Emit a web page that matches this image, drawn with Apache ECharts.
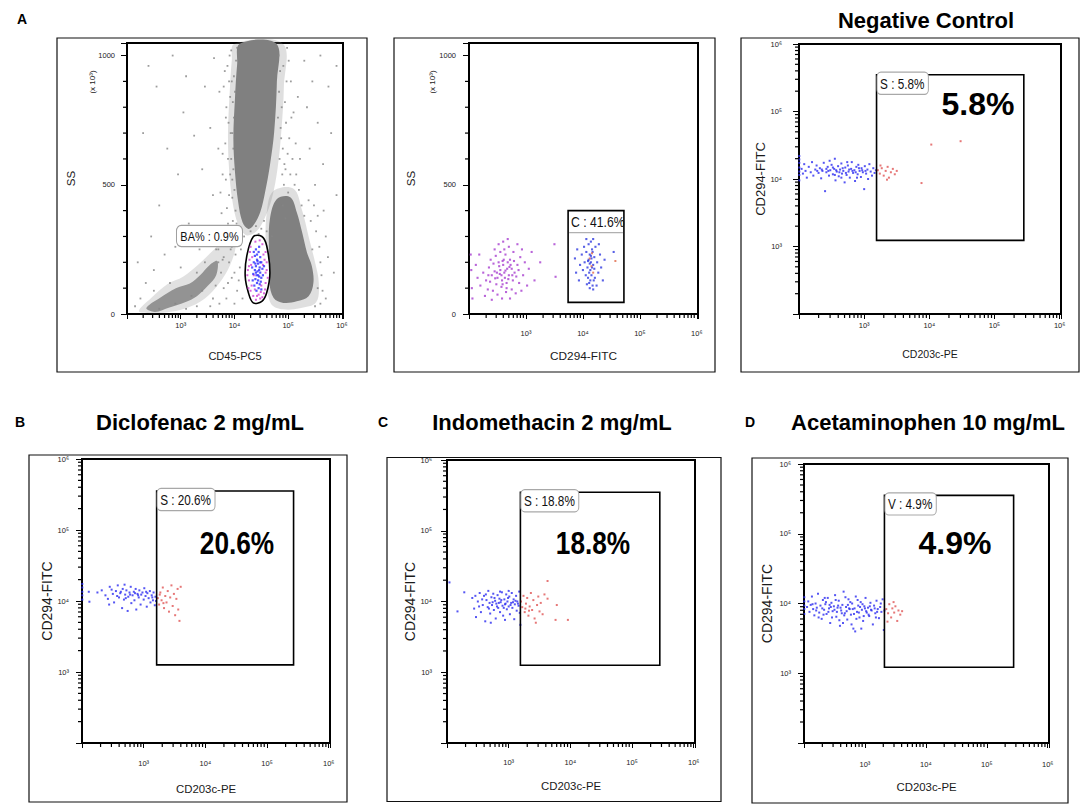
<!DOCTYPE html>
<html><head><meta charset="utf-8">
<script src="https://cdn.jsdelivr.net/npm/echarts@6/dist/echarts.min.js"></script>
<style>html,body{margin:0;padding:0;background:#fff;}#c{width:1084px;height:805px;}</style>
</head><body><div id="c"></div>
<script>
// ================= DATA =================
// Log-axis positions are stored as decade exponents (10^value); SS is in units of x10^3.
const panelLetters = ['A', 'B', 'C', 'D'];
const panelTitles = ['Negative Control', 'Diclofenac 2 mg/mL', 'Indomethacin 2 mg/mL', 'Acetaminophen 10 mg/mL'];
const bigPercents = ['5.8%', '20.6%', '18.8%', '4.9%'];
const gateLabels = ['S : 5.8%', 'S : 20.6%', 'S : 18.8%', 'V : 4.9%'];
const basoGateLabel = 'BA% : 0.9%';
const cd294GateLabel = 'C : 41.6%';
const xAxisNames = ['CD45-PC5', 'CD294-FITC', 'CD203c-PE', 'CD203c-PE', 'CD203c-PE', 'CD203c-PE'];
const yAxisNames = ['SS', 'SS', 'CD294-FITC', 'CD294-FITC', 'CD294-FITC', 'CD294-FITC'];
const ssScaleNote = '(x 10³)';
const ssTickLabels = [0, 500, 1000];
const ssMinorTicks = [100, 200, 300, 400, 600, 700, 800, 900];
const logMajorTicks = [100, 1000, 10000, 100000, 1000000];
const logDecades = [2, 3, 4, 5];
const logMultipliers = [2, 3, 4, 5, 6, 7, 8, 9];
const logTop = 1000000;

// Panel A1: CD45-PC5 vs SS
const a1CloudHighSS = [[4.10,1046],[4.78,1046],[4.79,900],[4.74,705],[4.66,575],[4.57,471],[4.48,394],[4.35,342],[4.26,329],[4.15,355],[4.07,432],[4.01,549],[3.98,679],[4.01,835],[4.05,965]];
const a1CloudLowSS = [[4.79,445],[5.04,452],[5.16,394],[5.26,316],[5.35,238],[5.44,186],[5.47,121],[5.38,69],[5.16,49],[4.91,43],[4.73,62],[4.65,121],[4.64,251],[4.66,368]];
const a1CloudDebris = [[2.36,23],[2.61,62],[2.92,101],[3.17,118],[3.36,150],[3.54,190],[3.68,205],[3.66,150],[3.50,108],[3.30,69],[3.08,45],[2.79,25],[2.52,8]];
const a1HaloHighSS = [[4.00,1046],[4.90,1046],[4.92,880],[4.87,700],[4.80,560],[4.70,450],[4.56,370],[4.40,318],[4.22,305],[4.07,345],[3.96,440],[3.90,560],[3.88,700],[3.91,850],[3.95,980]];
const a1HaloLowSS = [[4.72,475],[5.10,485],[5.26,400],[5.38,300],[5.50,200],[5.57,120],[5.52,45],[5.22,22],[4.90,18],[4.68,40],[4.60,130],[4.58,260],[4.60,390]];
const a1HaloDebris = [[2.22,12],[2.45,62],[2.75,115],[3.05,145],[3.35,195],[3.62,250],[3.88,300],[4.02,270],[3.92,190],[3.72,120],[3.45,60],[3.10,22],[2.72,6],[2.38,4]];
const a1BasoGate = [[4.35,299],[4.51,300],[4.60,264],[4.66,160],[4.60,82],[4.51,49],[4.35,43],[4.26,82],[4.20,147],[4.23,225]];
const a1SparseGray = [
 [2.25,60],[2.35,120],[2.2,200],[2.5,170],[2.7,230],[2.45,300],[2.9,260],[2.6,420],[2.95,540],[2.3,700],[2.75,640],[3.05,780],[2.55,880],[3.1,920],[2.85,1000],[2.4,960],[3.25,690],[3.15,350],[3.0,180],[2.15,30],
 [3.35,250],[3.4,560],[3.45,880],[3.5,300],[3.55,720],[3.6,460],[3.62,990],[3.66,250],[3.7,640],[3.72,860],[3.76,390],[3.78,540],[3.8,220],[3.82,940],[3.84,760],[3.86,300],[3.88,600],[3.9,460],[3.92,840],[3.93,250],[3.94,1020],[3.96,700],[3.97,360],[3.98,560],[3.99,920],
 [4.0,300],[4.02,400],[4.0,480],[3.98,640],[3.99,760],[4.01,860],[4.03,980],[4.05,1030],[4.04,350],[4.06,280],[4.08,320],[3.96,520],[3.97,820],[3.94,600],[3.95,900],[3.93,700],[3.96,450],
 [3.86,410],[3.84,520],[3.83,660],[3.85,800],[3.87,960],[3.80,880],[3.78,620],[3.74,470],[3.88,350],[3.91,1000],[3.89,740],[3.92,540],[3.90,900],
 [4.82,1000],[4.85,940],[4.83,860],[4.88,800],[4.86,720],[4.9,640],[4.84,600],[4.95,560],[4.92,500],[5.0,470],[4.98,1030],[5.05,900],[5.1,780],[5.02,680],[5.08,600],[5.15,540],[5.2,480],[5.25,420],[4.9,420],[4.95,370],[4.81,760],[4.87,680],[4.93,580],[5.12,500],[5.3,380],
 [4.94,820],[4.96,740],[4.99,620],[4.91,960],[4.97,900],[5.04,540],[5.06,760],[5.01,980],[4.89,540],[5.14,660],[5.18,840],[5.22,600],
 [5.3,980],[5.45,900],[5.6,1000],[5.75,880],[5.35,800],[5.55,740],[5.8,700],[5.4,640],[5.65,580],[5.5,500],[5.9,460],[5.55,380],[5.7,300],[5.6,200],[5.85,160],[5.55,100],[5.7,60],[5.5,30],[5.45,250],[5.9,960],
 [5.52,320],[5.58,260],[5.62,150],[5.64,90],[5.6,40],[5.48,420],[5.42,360],[5.66,400],[5.74,220],[5.38,440],
 [3.7,250],[3.75,160],[3.8,100],[3.85,60],[3.9,200],[3.95,140],[4.0,40],[4.05,90],[4.1,180],[4.12,250],[4.15,60],[4.18,300],[3.6,60],[3.65,110],[3.55,30],[3.9,300],[4.02,230],[4.08,130],[3.72,40],[3.82,280],[3.78,210],[3.88,120],[4.0,160],[4.1,270],[3.95,260],[3.7,200],
 [4.3,320],[4.4,340],[4.5,330],[4.6,320],[4.7,300],[4.45,310],[4.55,360],[4.35,360],
 [2.6,20],[2.9,40],[3.2,70],[3.4,90],[3.3,30],[3.1,20],[3.45,200],[3.3,160],[2.8,120],[2.5,90]
];
const a1GateBlue = [[4.40,250],[4.45,240],[4.38,225],[4.48,220],[4.42,210],[4.50,200],[4.36,200],[4.44,195],[4.40,185],[4.47,180],[4.52,175],[4.38,170],[4.43,165],[4.48,160],[4.35,155],[4.41,150],[4.46,145],[4.50,140],[4.39,135],[4.44,130],[4.42,120],[4.47,115],[4.37,110],[4.45,100],[4.41,90],[4.50,95],[4.33,180],[4.55,185],[4.46,260],[4.36,240],[4.53,150],[4.43,205],[4.40,160],[4.49,125],[4.34,130],[4.42,230],[4.46,170],[4.39,195],[4.44,150],[4.48,200]];
const a1GateMagenta = [[4.30,260],[4.52,270],[4.58,240],[4.28,210],[4.56,210],[4.25,170],[4.60,170],[4.27,130],[4.58,120],[4.30,90],[4.55,80],[4.35,70],[4.48,60],[4.40,55],[4.32,110],[4.50,110],[4.36,150],[4.54,230],[4.29,240],[4.62,140],[4.26,100],[4.45,75],[4.57,95],[4.33,220],[4.39,280],[4.47,285],[4.60,200],[4.24,150],[4.52,65],[4.42,70],[4.31,190],[4.53,190],[4.38,95],[4.49,85],[4.58,160],[4.27,185]];

// Panel A2: CD294-FITC vs SS
const a2GateBox = [3.74, 4.72, 45, 400];
const a2Purple = [[2.62,160],[2.55,170],[2.70,150],[2.60,190],[2.68,200],[2.50,140],[2.75,175],[2.58,130],[2.66,120],[2.45,165],[2.72,210],[2.64,230],[2.52,200],[2.80,160],[2.40,150],[2.57,105],[2.77,130],[2.48,115],[2.85,190],[2.35,180],[2.62,250],[2.70,260],[2.55,240],[2.90,220],[2.95,150],[2.88,120],[2.42,90],[2.30,130],[2.25,160],[2.20,110],[2.65,85],[2.75,95],[2.50,75],[2.82,80],[2.38,210],[2.78,240],[2.60,280],[2.68,290],[2.98,200],[3.05,175],[3.02,110],[2.92,90],[2.33,95],[2.28,70],[2.15,140],[2.12,190],[2.18,230],[2.45,250],[2.52,270],[2.85,270],[2.58,60],[2.72,60],[2.40,55],[3.10,240],[3.15,130],[3.25,200],[2.63,140],[2.57,150],[2.67,175],[2.53,185],[2.73,190],[2.61,210],[2.49,160],[2.69,135],[2.59,115],[2.47,225],[2.79,205],[2.83,145],[2.37,125],[2.43,195],[3.50,270],[3.52,144],[2.05,100],[2.04,170],[2.03,230],[2.06,60],[2.54,155],[2.64,168],[2.71,182],[2.46,138],[2.59,205],[2.76,150],[2.87,170],[2.34,150],[2.66,100],[2.93,250]];
const a2Blue = [[4.14,200],[4.10,210],[4.18,190],[4.12,230],[4.16,250],[4.08,180],[4.20,220],[4.13,170],[4.06,240],[4.22,260],[4.15,150],[4.09,140],[4.19,130],[4.11,120],[4.17,110],[4.03,200],[4.25,200],[4.00,170],[4.27,160],[4.14,280],[4.10,270],[4.18,290],[4.05,150],[4.21,140],[3.98,230],[4.30,230],[3.95,190],[4.32,180],[3.90,250],[4.35,130],[4.12,100],[4.18,95],[4.07,115],[3.93,130],[3.88,160],[4.24,110],[4.16,180],[4.12,195],[4.15,215],[4.11,160],[4.17,240],[4.13,130],[4.09,205],[4.20,175],[4.14,225],[4.02,260],[4.28,270],[4.06,290],[3.86,215],[4.38,210],[4.54,240]];
const a2Red = [[4.15,185],[4.12,215],[4.18,160],[4.57,205],[4.16,235]];

// Panel A3: Negative Control (CD203c-PE vs CD294-FITC)
const negGate = [3.19, 5.45, 3.09, 5.545];
const negBlue = [[2.04,4.15],[2.06,4.08],[2.08,4.22],[2.10,4.12],[2.12,4.02],[2.15,4.18],[2.18,4.10],[2.20,4.25],[2.22,4.05],[2.25,4.14],[2.27,4.20],[2.30,4.09],[2.32,4.16],[2.34,4.01],[2.36,4.12],[2.38,4.24],[2.40,3.82],[2.42,4.10],[2.44,4.18],[2.46,4.05],[2.48,4.13],[2.50,4.21],[2.52,4.07],[2.54,4.15],[2.55,4.30],[2.56,3.98],[2.58,4.11],[2.60,4.19],[2.61,4.04],[2.63,4.14],[2.65,4.23],[2.66,4.08],[2.68,4.12],[2.70,3.95],[2.71,4.17],[2.73,4.06],[2.75,4.20],[2.76,4.11],[2.78,4.02],[2.80,4.15],[2.81,4.25],[2.83,4.09],[2.85,4.13],[2.86,3.97],[2.88,4.18],[2.90,4.07],[2.91,4.21],[2.93,4.12],[2.95,4.03],[2.96,4.16],[2.98,4.10],[3.00,3.85],[3.01,4.19],[3.03,4.08],[3.05,4.14],[3.06,4.00],[3.08,4.22],[3.10,4.11],[3.12,4.05],[3.14,4.16],[3.16,4.09],[3.18,4.13],[2.35,4.14],[2.45,4.12],[2.57,4.13],[2.67,4.16],[2.77,4.14],[2.87,4.10],[2.97,4.13],[2.62,4.10],[2.72,4.09],[2.82,4.12],[2.52,4.17],[2.42,4.15],[2.92,4.16],[3.02,4.12],[2.65,4.02],[2.55,4.06],[2.74,4.25],[2.89,4.02],[2.47,4.27],[2.28,4.12]];
const negEdge = [[2.005,3.98],[2.005,4.06],[2.005,4.11],[2.005,4.17],[2.005,4.24],[2.005,4.29],[2.005,4.34]];
const negRed = [[3.21,4.13],[3.24,4.08],[3.27,4.16],[3.30,4.05],[3.33,4.12],[3.36,4.18],[3.38,4.02],[3.41,4.10],[3.44,4.15],[3.47,4.07],[3.50,4.12],[3.25,4.20],[3.35,3.99],[4.03,4.51],[4.48,4.56],[3.88,3.94]];

// Panel B: Diclofenac 2 mg/mL
const dicloGate = [3.21, 5.43, 3.10, 5.55];
const dicloBlue = [[2.11,4.13],[2.12,3.99],[2.25,4.12],[2.32,4.15],[2.38,4.08],[2.42,4.03],[2.45,4.20],[2.50,4.10],[2.52,3.98],[2.55,4.14],[2.58,4.22],[2.60,4.05],[2.62,4.11],[2.65,3.90],[2.66,4.17],[2.68,4.02],[2.70,4.09],[2.72,4.15],[2.74,3.86],[2.75,4.06],[2.77,4.12],[2.79,4.20],[2.80,3.97],[2.82,4.08],[2.84,4.13],[2.85,4.01],[2.87,4.17],[2.88,3.88],[2.90,4.10],[2.92,4.05],[2.93,4.15],[2.95,3.95],[2.96,4.09],[2.98,4.12],[3.00,4.02],[3.01,4.18],[3.03,4.07],[3.05,3.92],[3.06,4.11],[3.08,4.04],[3.10,4.14],[3.11,3.98],[3.13,4.08],[3.15,4.01],[3.16,4.12],[3.18,3.94],[3.19,4.06],[3.20,4.00],[2.48,4.16],[2.63,4.13],[2.78,4.09],[2.91,4.08],[3.04,4.13],[2.57,4.07],[2.71,4.04],[2.86,4.11],[3.14,4.05],[2.69,4.23],[2.44,3.95]];
const dicloEdge = [[2.005,4.02],[2.005,4.08],[2.005,4.13],[2.005,4.19],[2.005,4.24]];
const dicloRed = [[3.23,4.04],[3.25,3.95],[3.27,4.12],[3.29,4.01],[3.31,4.19],[3.33,3.90],[3.35,4.07],[3.37,3.98],[3.39,4.14],[3.41,3.85],[3.43,4.05],[3.45,4.22],[3.47,3.93],[3.49,4.10],[3.51,3.80],[3.53,4.03],[3.55,4.17],[3.58,3.72],[3.60,4.20],[3.56,3.88],[3.26,4.09],[3.32,3.97]];

// Panel C: Indomethacin 2 mg/mL
const indoGate = [3.19, 5.45, 3.10, 5.545];
const indoBlue = [[2.04,4.27],[2.17,3.86],[2.28,4.13],[2.41,4.05],[2.44,3.90],[2.47,3.78],[2.50,4.00],[2.53,4.12],[2.55,3.85],[2.58,3.95],[2.60,4.08],[2.62,3.72],[2.64,4.02],[2.66,3.92],[2.67,4.15],[2.69,3.98],[2.70,3.83],[2.72,4.06],[2.73,3.95],[2.75,4.11],[2.76,3.88],[2.78,4.01],[2.79,3.76],[2.80,3.97],[2.82,4.09],[2.83,3.91],[2.85,4.04],[2.86,3.85],[2.87,3.99],[2.89,4.13],[2.90,3.94],[2.91,3.80],[2.93,4.03],[2.94,3.96],[2.96,4.10],[2.97,3.89],[2.98,4.00],[3.00,3.93],[3.01,4.07],[3.02,3.82],[3.04,3.98],[3.05,4.12],[3.06,3.91],[3.08,4.03],[3.09,3.75],[3.10,3.96],[3.12,4.08],[3.13,3.87],[3.14,4.00],[3.16,3.94],[3.17,4.14],[3.18,3.84],[3.19,3.67],[2.74,3.99],[2.81,3.93],[2.88,4.02],[2.95,3.97],[3.03,3.95],[3.11,4.01],[2.77,4.05],[2.84,3.98],[2.92,3.91],[2.99,4.05],[3.07,3.99],[3.15,3.97],[2.68,3.90],[2.63,4.10],[2.57,4.03],[2.52,3.93],[2.46,4.08],[2.71,3.70],[2.94,3.74],[3.00,4.15],[2.86,4.14]];
const indoRed = [[3.20,4.00],[3.22,3.92],[3.24,4.08],[3.26,3.85],[3.28,3.97],[3.30,4.05],[3.32,3.80],[3.34,3.93],[3.36,4.12],[3.38,3.88],[3.40,4.02],[3.42,3.76],[3.44,3.70],[3.46,3.95],[3.48,4.07],[3.50,3.86],[3.52,3.98],[3.55,3.82],[3.58,4.10],[3.63,4.29],[3.63,4.04],[3.78,3.95],[3.76,3.74],[3.96,3.74],[3.27,3.90],[3.33,3.87]];

// Panel D: Acetaminophen 10 mg/mL
const acetGate = [3.32, 5.44, 3.085, 5.55];
const acetBlue = [[2.05,3.95],[2.07,4.03],[2.09,3.88],[2.11,3.98],[2.13,4.10],[2.15,3.92],[2.17,3.83],[2.19,4.00],[2.21,3.94],[2.23,4.14],[2.25,3.87],[2.27,3.97],[2.29,3.78],[2.31,4.05],[2.33,3.91],[2.35,3.99],[2.37,3.85],[2.39,4.08],[2.41,3.93],[2.43,3.72],[2.45,4.01],[2.47,3.89],[2.49,3.96],[2.51,4.12],[2.53,3.81],[2.55,3.94],[2.57,4.04],[2.59,3.68],[2.61,3.90],[2.63,3.98],[2.65,4.17],[2.67,3.86],[2.69,3.95],[2.71,3.77],[2.73,4.06],[2.75,3.92],[2.77,3.84],[2.79,4.00],[2.81,3.64],[2.83,3.93],[2.85,4.10],[2.87,3.88],[2.89,3.97],[2.91,3.80],[2.93,4.02],[2.95,3.91],[2.97,3.75],[2.99,3.96],[3.01,4.08],[3.03,3.87],[3.05,3.94],[3.07,3.82],[3.09,4.01],[3.11,3.90],[3.13,3.70],[3.15,3.97],[3.17,3.86],[3.19,4.04],[3.21,3.92],[3.23,3.79],[3.25,3.95],[3.27,3.88],[3.29,4.06],[3.31,3.62],[3.32,3.90],[2.20,3.90],[2.30,3.93],[2.40,3.88],[2.50,3.91],[2.60,3.94],[2.70,3.89],[2.80,3.92],[2.90,3.87],[3.00,3.93],[3.10,3.91],[3.20,3.88],[2.36,4.02],[2.46,3.80],[2.56,3.97],[2.66,3.83],[2.76,4.02],[2.86,3.78],[2.96,3.99],[3.06,3.84],[3.16,3.93],[2.62,3.86],[2.72,3.98],[2.82,3.85],[2.92,3.95],[3.02,3.89],[2.52,4.05],[2.42,3.98],[2.32,3.84],[2.58,3.76],[2.68,4.09],[2.78,3.70],[2.88,4.05],[2.98,3.82],[3.08,3.96],[3.18,3.80],[3.26,4.00],[2.94,3.64],[2.84,3.60],[2.64,3.72],[2.74,3.93],[2.54,3.88],[2.44,3.95],[2.34,4.08],[2.24,3.80],[2.14,3.99]];
const acetEdge = [[2.005,3.85],[2.005,3.92],[2.005,3.97],[2.005,4.03],[2.005,4.09]];
const acetRed = [[3.35,3.92],[3.38,3.86],[3.40,3.99],[3.43,3.80],[3.45,3.93],[3.48,3.87],[3.50,3.96],[3.53,3.75],[3.55,3.90],[3.58,3.84],[3.61,3.89],[3.37,3.74],[3.47,4.02]];

// ================= LAYOUT / STYLE =================
const ARIAL = '"Liberation Sans",Arial,Helvetica,sans-serif';
const BLUE = '#2b2bf0', RED = '#e05555', GRAY = '#858585';

const grids = [
  {left:127, top:43, width:216, height:271},
  {left:469, top:43, width:229, height:271},
  {left:799, top:44, width:262, height:270},
  {left:82,  top:459, width:248, height:284},
  {left:447, top:460, width:248, height:283},
  {left:804, top:464, width:245, height:279}
];
const xCfg = [ // [labelMargin, nameGap, nameSize]
  [7, 36, 11], [15, 36, 11.8], [7, 34, 10.5], [16, 40, 11.4], [15, 37, 11.4], [17, 38, 11.4]
];
const yCfg = [ // [labelMargin, nameGap, nameSize]
  [12, 50, 11.5], [13, 52, 11.5], [17, 29, 13], [13, 28, 14], [15, 30, 14], [13, 30, 14]
];
const ssPanels = [0, 1];

const SUP = {'2':'²','3':'³','4':'⁴','5':'⁵','6':'⁶'};
function logLabel(v) {
  const e = Math.log10(v), r = Math.round(e);
  if (Math.abs(e - r) > 1e-6 || r < 3) return '';
  return '10' + SUP[r];
}
function ssLabel(v) { return ssTickLabels.indexOf(v) >= 0 ? String(v) : ''; }

const logMinorTicks = [];
logDecades.forEach(function (d) { logMultipliers.forEach(function (m) { logMinorTicks.push(m * Math.pow(10, d)); }); });

const toRaw = (pts, yLog) => pts.map(p => [Math.pow(10, p[0]), yLog ? Math.pow(10, p[1]) : p[1]]);

const xAxes = grids.map((g, i) => ({
  type:'log', logBase:10, gridIndex:i, min:100, max:1048576,
  name:xAxisNames[i], nameLocation:'middle', nameGap:xCfg[i][1],
  nameTextStyle:{fontSize:xCfg[i][2], fontFamily:ARIAL, color:'#1a1a1a'},
  axisLine:{show:true, lineStyle:{color:'#000', width:2}},
  axisTick:{show:true, length:5, lineStyle:{color:'#000'}},
  splitLine:{show:false},
  axisLabel:{margin:xCfg[i][0], formatter:logLabel, fontSize:7.5, fontFamily:ARIAL, color:'#222'}
}));
const yAxes = grids.map((g, i) => {
  const ss = ssPanels.indexOf(i) >= 0;
  const base = {
    gridIndex:i, name:yAxisNames[i], nameLocation:'middle', nameRotate:90, nameGap:yCfg[i][1],
    nameTextStyle:{fontSize:yCfg[i][2], fontFamily:ARIAL, color:'#1a1a1a'},
    axisLine:{show:true, lineStyle:{color:'#000', width:2}},
    axisTick:{show:true, length:6, lineStyle:{color:'#000'}},
    splitLine:{show:false},
    axisLabel:{margin:yCfg[i][0], fontSize:7.5, fontFamily:ARIAL, color:'#222'}
  };
  if (ss) { base.type = 'value'; base.min = 0; base.max = 1048.576; base.interval = 500; base.axisLabel.formatter = ssLabel; }
  else { base.type = 'log'; base.logBase = 10; base.min = 100; base.max = logTop; base.axisLabel.formatter = logLabel; }
  return base;
});

const series = [];
function addDots(gi, pts, yLog, color, size, z) {
  series.push({type:'scatter', xAxisIndex:gi, yAxisIndex:gi, data:toRaw(pts, yLog), symbol:'rect',
    symbolSize:size || 2, itemStyle:{color:color}, z:z || 5, silent:true});
}
function addPoly(gi, pts, fill, stroke, z) {
  const raw = toRaw(pts, false);
  series.push({type:'custom', xAxisIndex:gi, yAxisIndex:gi, data:raw, z:z, silent:true,
    renderItem: function (params, api) {
      if (params.dataIndex !== 0) return null;
      return {type:'polygon', shape:{points:raw.map(p => api.coord(p)), smooth:0.35},
        style:{fill:fill, stroke:stroke || null, lineWidth:stroke ? 1.6 : 0}};
    }});
}
function addGate(gi, box, label, yLog, boxed) {
  const c0 = [Math.pow(10, box[0]), yLog ? Math.pow(10, box[2]) : box[2]];
  const c1 = [Math.pow(10, box[1]), yLog ? Math.pow(10, box[3]) : box[3]];
  series.push({type:'custom', xAxisIndex:gi, yAxisIndex:gi, data:[c0, c1], z:9, silent:true,
    renderItem: function (params, api) {
      if (params.dataIndex !== 0) return null;
      const p0 = api.coord(c0), p1 = api.coord(c1);
      const x = p0[0], y = p1[1], w = p1[0] - p0[0], h = p0[1] - p1[1];
      const kids = [{type:'rect', shape:{x:x, y:y, width:w, height:h}, style:{fill:null, stroke:'#000', lineWidth:1.6}}];
      if (boxed) {
        kids.push({type:'text', x:x + 1, y:y - 2, scaleX:0.84, style:{text:label, x:0, y:0, fill:'#111', fontSize:14, fontFamily:ARIAL,
          align:'left', verticalAlign:'top', backgroundColor:'#fff', borderColor:'#a8a8a8', borderWidth:1.2,
          borderRadius:4, padding:[4, 4, 3, 3]}});
      } else {
        kids.push({type:'line', shape:{x1:x + 1, y1:y + 22, x2:x + w - 1, y2:y + 22}, style:{stroke:'#b0b0b0', lineWidth:1.2}});
        kids.push({type:'text', x:x + 3, y:y + 4, scaleX:0.84, style:{text:label, x:0, y:0, fill:'#111', fontSize:14.5, fontFamily:ARIAL, align:'left', verticalAlign:'top'}});
      }
      return {type:'group', children:kids};
    }});
}
// Minor ticks (true log spacing / SS hundreds), placed through api.coord on each panel's axes
function addMinorTicks(gi, ss) {
  const yBase = ss ? 0 : 100;
  const yMinor = ss ? ssMinorTicks : logMinorTicks;
  series.push({type:'custom', xAxisIndex:gi, yAxisIndex:gi, data:[[10000, ss ? 500 : 10000]], clip:false, z:10,
    renderItem: function (params, api) {
      const kids = [];
      logMinorTicks.forEach(function (v) {
        const p = api.coord([v, yBase]);
        kids.push({type:'rect', shape:{x:p[0] - 0.6, y:p[1], width:1.2, height:4}, style:{fill:'#000'}});
      });
      yMinor.forEach(function (v) {
        const p = api.coord([100, v]);
        kids.push({type:'rect', shape:{x:p[0] - 4, y:p[1] - 0.6, width:4, height:1.2}, style:{fill:'#000'}});
      });
      return {type:'group', children:kids};
    }});
}

// Panel A1
addPoly(0, a1HaloDebris, 'rgba(135,135,135,0.25)', null, 1);
addPoly(0, a1HaloHighSS, 'rgba(128,128,128,0.25)', null, 1);
addPoly(0, a1HaloLowSS, 'rgba(128,128,128,0.25)', null, 1);
addPoly(0, a1CloudDebris, '#939393', null, 2);
addPoly(0, a1CloudHighSS, '#808080', null, 2);
addPoly(0, a1CloudLowSS, '#808080', null, 2);
addDots(0, a1SparseGray, false, GRAY, 1.8, 3);
addPoly(0, a1BasoGate, '#ffffff', '#000', 4);
addDots(0, a1GateMagenta, false, '#cf3fd3', 2, 5);
addDots(0, a1GateBlue, false, '#2a2aff', 2.2, 6);
addMinorTicks(0, true);
// Panel A2
addDots(1, a2Purple, false, '#a83fcf', 2.1, 5);
addDots(1, a2Blue, false, '#2f3ae0', 2.1, 5);
addDots(1, a2Red, false, '#e06a4a', 2, 6);
addGate(1, a2GateBox, cd294GateLabel, false, false);
addMinorTicks(1, true);
// Panels A3, B, C, D
const fcPanels = [
  [2, negGate, negBlue, negEdge, negRed, gateLabels[0]],
  [3, dicloGate, dicloBlue, dicloEdge, dicloRed, gateLabels[1]],
  [4, indoGate, indoBlue, [], indoRed, gateLabels[2]],
  [5, acetGate, acetBlue, acetEdge, acetRed, gateLabels[3]]
];
fcPanels.forEach(p => {
  addDots(p[0], p[2], true, BLUE, 2, 5);
  if (p[3].length) addDots(p[0], p[3], true, BLUE, 2, 5);
  addDots(p[0], p[4], true, RED, 2, 5);
  addGate(p[0], p[1], p[5], true, true);
  addMinorTicks(p[0], false);
});

// Static graphics: frames, titles, big percentages
const frames = [[57,38,310,334],[394,38,321,334],[741,38,338,334],[29,455,318,347],[387,457.5,334,344],[752,458,316,345]];
const graphic = frames.map(f => ({type:'rect', shape:{x:f[0], y:f[1], width:f[2], height:f[3]}, style:{fill:null, stroke:'#111', lineWidth:1.2}, silent:true}));
const letterPos = [[22,19],[20,422],[383,422],[750,422]];
letterPos.forEach((p, i) => graphic.push({type:'text', x:p[0], y:p[1], style:{text:panelLetters[i], fontSize:14, fontWeight:'bold', fontFamily:ARIAL, fill:'#000', align:'center', verticalAlign:'middle'}}));
const titlePos = [[926,20],[200,422],[552,422],[928,422]];
titlePos.forEach((p, i) => graphic.push({type:'text', x:p[0], y:p[1], style:{text:panelTitles[i], fontSize:22, fontWeight:'bold', fontFamily:ARIAL, fill:'#000', align:'center', verticalAlign:'middle'}}));
const pctPos = [[978,104,1],[237,543,0.82],[593,543,0.82],[955,543,1]];
pctPos.forEach((p, i) => graphic.push({type:'text', x:p[0], y:p[1], scaleX:p[2], style:{text:bigPercents[i], fontSize:32, fontWeight:'bold', fontFamily:ARIAL, fill:'#000', align:'center', verticalAlign:'middle'}}));
[[92,82],[432,82]].forEach(p => graphic.push({type:'text', x:p[0], y:p[1], rotation:Math.PI / 2, style:{text:ssScaleNote, fontSize:8, fontFamily:ARIAL, fill:'#222', align:'center', verticalAlign:'middle'}}));
graphic.push({type:'text', x:177, y:226, z:20, scaleX:0.84, style:{text:basoGateLabel, fontSize:13, fontFamily:ARIAL, fill:'#111', align:'left', verticalAlign:'top', backgroundColor:'#fff', borderColor:'#a0a0a0', borderWidth:1.2, borderRadius:5, padding:[4, 4, 3, 4]}});

const chart = echarts.init(document.getElementById('c'), null, {renderer:'svg', width:1084, height:805});
chart.setOption({
  animation:false,
  grid:grids.map(g => Object.assign({show:true, borderColor:'#000', borderWidth:2, outerBoundsMode:'none'}, g)),
  xAxis:xAxes, yAxis:yAxes, series:series, graphic:graphic
});
</script></body></html>
